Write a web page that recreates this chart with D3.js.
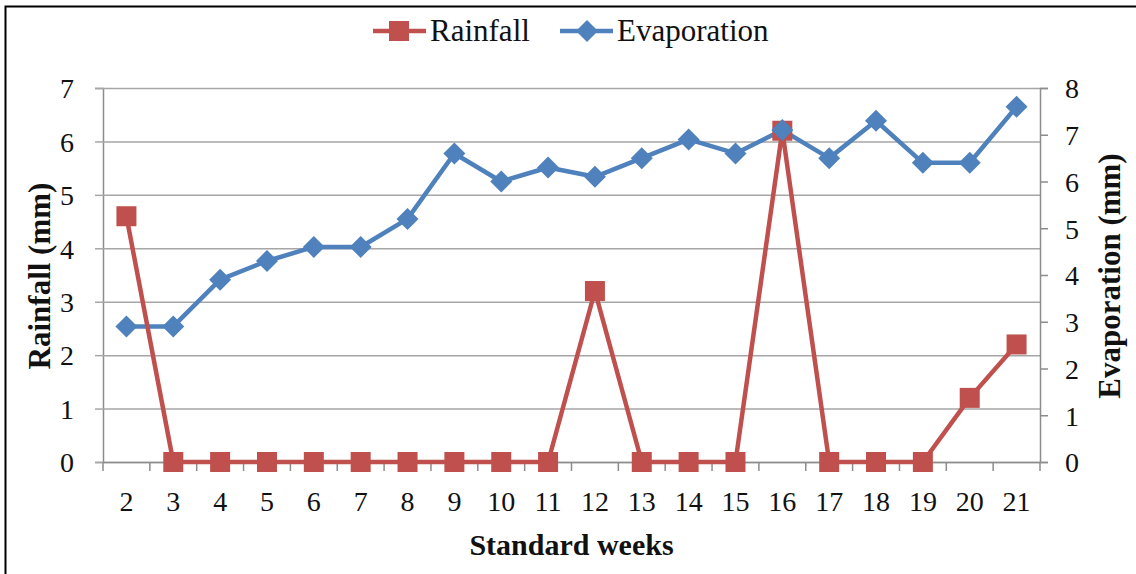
<!DOCTYPE html>
<html>
<head>
<meta charset="utf-8">
<script src="https://cdn.jsdelivr.net/npm/d3@7"></script>
<style>
  body { margin: 0; background: #fff; }
  svg { display: block; font-family: "Liberation Serif", "Times New Roman", serif; }
</style>
</head>
<body>
<svg id="chart" width="1136" height="574"></svg>
<script>
// weeks on x axis
const weeks = ["2","3","4","5","6","7","8","9","10","11","12","13","14","15","16","17","18","19","20","21"];
const rainfall = [4.6, 0, 0, 0, 0, 0, 0, 0, 0, 0, 3.2, 0, 0, 0, 6.2, 0, 0, 0, 1.2, 2.2];
const evaporation = [2.9, 2.9, 3.9, 4.3, 4.6, 4.6, 5.2, 6.6, 6.0, 6.3, 6.1, 6.5, 6.9, 6.6, 7.1, 6.5, 7.3, 6.4, 6.4, 7.6];
const leftTicks = [0, 1, 2, 3, 4, 5, 6, 7];
const rightTicks = [0, 1, 2, 3, 4, 5, 6, 7, 8];

const red = '#C0504D', blue = '#4F81BD';
const gridCol = '#a6a6a6', axisCol = '#8c8c8c';
const serif = '"Liberation Serif", "Times New Roman", serif';

let svg = d3.select('#chart');

// outer frame (right/bottom edges are cut off in the picture)
svg.append('rect')
  .attr('x', 5.5).attr('y', 6.5)
  .attr('width', 1140).attr('height', 580)
  .attr('fill', 'none').attr('stroke', '#000').attr('stroke-width', 2);

let mLeft = 103, mRight = 1040, mTop = 88, mBottom = 462;

let x = d3.scaleBand().domain(weeks).range([mLeft, mRight]);
let yL = d3.scaleLinear().domain([0, 7]).range([mBottom, mTop]);
let yR = d3.scaleLinear().domain([0, 8]).range([mBottom, mTop]);

// gridlines + left axis
let leftAxis = svg.append('g')
  .attr('transform', 'translate(' + mLeft + ',0)')
  .call(d3.axisLeft(yL).tickValues(leftTicks).tickSize(8).tickFormat(d3.format('d')));
leftAxis.attr('font-family', null);
leftAxis.select('.domain').attr('stroke', axisCol).attr('stroke-width', 1.5);
leftAxis.selectAll('.tick line').attr('stroke', gridCol).attr('stroke-width', 1.5);
leftAxis.selectAll('.tick').append('line')
  .attr('x1', 0).attr('x2', mRight - mLeft)
  .attr('stroke', gridCol).attr('stroke-width', 1.5);
leftAxis.selectAll('text')
  .attr('x', -29).attr('dy', '0.35em')
  .style('font-size', '28px').style('font-family', serif).attr('fill', '#111');

// right axis
let rightAxis = svg.append('g')
  .attr('transform', 'translate(' + mRight + ',0)')
  .call(d3.axisRight(yR).tickValues(rightTicks).tickSize(8).tickFormat(d3.format('d')));
rightAxis.attr('font-family', null);
rightAxis.select('.domain').attr('stroke', axisCol).attr('stroke-width', 1.5);
rightAxis.selectAll('.tick line').attr('stroke', axisCol).attr('stroke-width', 1.5);
rightAxis.selectAll('text')
  .attr('x', 25).attr('dy', '0.35em')
  .style('font-size', '28px').style('font-family', serif).attr('fill', '#111');

// bottom axis
let xAxis = svg.append('g')
  .attr('transform', 'translate(0,' + mBottom + ')')
  .call(d3.axisBottom(x).tickSize(0));
xAxis.attr('font-family', null);
xAxis.select('.domain').attr('stroke', axisCol).attr('stroke-width', 1.5);
xAxis.selectAll('text')
  .attr('y', 29).attr('dy', '0.71em')
  .style('font-size', '28px').style('font-family', serif).attr('fill', '#111');
// category boundary ticks
let bounds = weeks.map(function(w) { return x(w); }).concat([mRight]);
xAxis.selectAll('.bound').data(bounds).enter().append('line')
  .attr('class', 'bound')
  .attr('x1', function(d) { return d; }).attr('x2', function(d) { return d; })
  .attr('y1', 0).attr('y2', 9)
  .attr('stroke', axisCol).attr('stroke-width', 1.5);

// axis titles
svg.append('text')
  .attr('transform', 'translate(50,276) rotate(-90)')
  .attr('text-anchor', 'middle')
  .style('font-size', '31px').style('font-weight', 'bold').style('font-family', serif).attr('fill', '#111')
  .text('Rainfall (mm)');
svg.append('text')
  .attr('transform', 'translate(1120,276) rotate(-90)')
  .attr('text-anchor', 'middle')
  .style('font-size', '31px').style('font-weight', 'bold').style('font-family', serif).attr('fill', '#111')
  .text('Evaporation (mm)');
svg.append('text')
  .attr('x', (mLeft + mRight) / 2).attr('y', 555)
  .attr('text-anchor', 'middle')
  .style('font-size', '30px').style('font-weight', 'bold').style('font-family', serif).attr('fill', '#111')
  .text('Standard weeks');

let cx = function(d, i) { return x(weeks[i]) + x.bandwidth() / 2; };

// evaporation series
svg.append('path')
  .datum(evaporation)
  .attr('fill', 'none').attr('stroke', blue).attr('stroke-width', 4.5)
  .attr('stroke-linejoin', 'round')
  .attr('d', d3.line().x(cx).y(function(d) { return yR(d); }));

// rainfall series
svg.append('path')
  .datum(rainfall)
  .attr('fill', 'none').attr('stroke', red).attr('stroke-width', 4.5)
  .attr('stroke-linejoin', 'round')
  .attr('d', d3.line().x(cx).y(function(d) { return yL(d); }));

svg.append('g').selectAll('rect')
  .data(rainfall).enter().append('rect')
  .attr('x', function(d, i) { return cx(d, i) - 10; })
  .attr('y', function(d) { return yL(d) - 10; })
  .attr('width', 20).attr('height', 20)
  .attr('fill', red);

svg.append('g').selectAll('path')
  .data(evaporation).enter().append('path')
  .attr('transform', function(d, i) { return 'translate(' + cx(d, i) + ',' + yR(d) + ')'; })
  .attr('d', 'M0,-11L11,0L0,11L-11,0Z')
  .attr('fill', blue);

// legend
let legend = svg.append('g').style('font-family', serif);
legend.append('line').attr('x1', 373).attr('x2', 426).attr('y1', 31).attr('y2', 31)
  .attr('stroke', red).attr('stroke-width', 4.5);
legend.append('rect').attr('x', 389).attr('y', 21).attr('width', 20).attr('height', 20).attr('fill', red);
legend.append('text').attr('x', 430).attr('y', 41)
  .style('font-size', '31px').attr('fill', '#111').text('Rainfall');
legend.append('line').attr('x1', 560).attr('x2', 613).attr('y1', 31).attr('y2', 31)
  .attr('stroke', blue).attr('stroke-width', 4.5);
legend.append('path').attr('transform', 'translate(587,31)')
  .attr('d', 'M0,-11L11,0L0,11L-11,0Z').attr('fill', blue);
legend.append('text').attr('x', 617).attr('y', 41)
  .style('font-size', '31px').attr('fill', '#111').text('Evaporation');
</script>
</body>
</html>
